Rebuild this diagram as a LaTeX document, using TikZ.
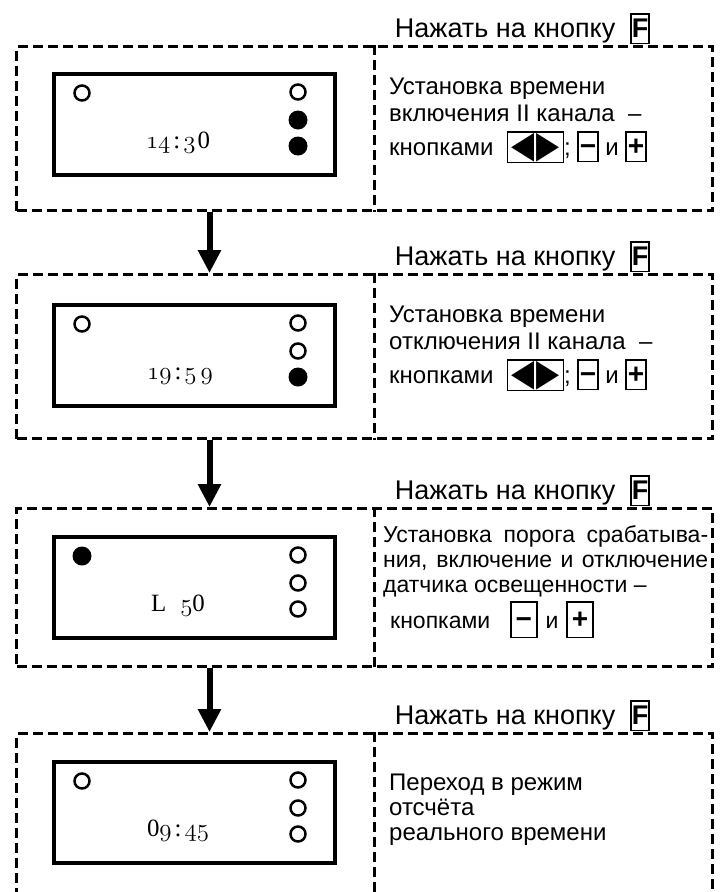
\documentclass[tikz,border=0pt]{standalone}
\usepackage{fontspec}
\setmainfont{Liberation Sans}
\newfontfamily\lcdserif{Liberation Serif}
\newfontfamily\symfont{DejaVu Sans}
\usepackage{graphicx}
\usepackage{tikz}
\usetikzlibrary{arrows.meta, positioning}

\newcommand{\knopka}[2][0pt]{{\setlength{\fboxsep}{#1}\setlength{\fboxrule}{1.5pt}\fbox{\rule[-5.5pt]{0pt}{28pt}\textbf{#2}}}}
\newcommand{\znak}[1]{{\fontsize{28}{28}\selectfont\kern1pt#1\kern1pt}}
\newcommand{\strelki}{\knopka{\kern3pt\raisebox{-2pt}{\scalebox{1}[1.25]{\symfont\fontsize{30}{30}\selectfont ◀\kern2pt▶}}\kern3pt}}
\newcommand{\osnum}[1]{{\usefont{OML}{cmm}{m}{it}#1}}

\begin{document}
\begin{tikzpicture}[
        x=1pt, y=-1pt,
        block/.style={draw, dash pattern=on 10pt off 5pt, line width=3pt, anchor=north west, minimum width=696pt, minimum height=164pt},
        divider/.style={dash pattern=on 10pt off 5pt, line width=3pt},
        lcd/.style={draw, line width=4pt, anchor=north west, minimum width=281pt, minimum height=101pt},
        ledoff/.style={circle, draw, line width=2.5pt, inner sep=0pt, minimum size=15pt},
        ledon/.style={circle, fill, inner sep=0pt, minimum size=19pt},
        lcdtext/.style={anchor=base, inner sep=0pt, font=\lcdserif\fontsize{24.88}{30}\selectfont},
        press/.style={anchor=base east, inner sep=0pt, font=\fontsize{27}{30}\selectfont},
        hint/.style={anchor=base west, align=left, inner sep=0pt, font=\fontsize{24}{27}\selectfont},
        nextarrow/.style={line width=6pt, -{Triangle[length=23pt, width=22pt]}}
      ]
      \useasboundingbox (0,0) rectangle (723,892);

      % Block 1
      \node[block] (block1) at (15,45) {};
      \node[press] (press1) at (650,37) {Нажать на кнопку \ \knopka{F}};
      \node[lcd] (lcd1) at (52,72) {};
      \node[ledoff] (led1a) at (82,93) {};
      \node[ledoff] (led1b) at (298,92) {};
      \node[ledon] (led1c) at (298,120) {};
      \node[ledon] (led1d) at (298,146) {};
      \node[lcdtext] (time1) at (178,148) {\osnum{14}\kern3pt:\kern3pt\osnum{3}\kern2pt0};
      \node[hint] (hint1) at (389,121) {Установка времени\\включения II канала \ –};
      \node[hint] (keys1) at (389,155) {кнопками \ \strelki; \knopka{\znak{−}} и \knopka{\znak{+}}};
      \draw[divider] ([xshift=9.5pt]block1.north) -- ([xshift=9.5pt]block1.south);

      % Block 2
      \node[block] (block2) at (15,273) {};
      \node[press] (press2) at (650,265) {Нажать на кнопку \ \knopka{F}};
      \node[lcd] (lcd2) at (52,303) {};
      \node[ledoff] (led2a) at (82,324) {};
      \node[ledoff] (led2b) at (298,323) {};
      \node[ledoff] (led2c) at (298,351) {};
      \node[ledon] (led2d) at (298,377) {};
      \node[lcdtext] (time2) at (180,379) {\osnum{19}\kern3pt:\kern3pt\osnum{5}\kern4pt\osnum{9}};
      \node[hint] (hint2) at (389,349) {Установка времени\\отключения II канала \ –};
      \node[hint] (keys2) at (389,383) {кнопками \ \strelki; \knopka{\znak{−}} и \knopka{\znak{+}}};
      \draw[divider] ([xshift=9.5pt]block2.north) -- ([xshift=9.5pt]block2.south);

      % Block 3
      \node[block, minimum height=158pt] (block3) at (15,507) {};
      \node[press] (press3) at (650,499) {Нажать на кнопку \ \knopka{F}};
      \node[lcd] (lcd3) at (52,535) {};
      \node[ledon] (led3a) at (82,556) {};
      \node[ledoff] (led3b) at (298,555) {};
      \node[ledoff] (led3c) at (298,583) {};
      \node[ledoff] (led3d) at (298,609) {};
      \node[lcdtext] (time3) at (178,611) {L\hspace{14pt}\osnum{5}0};
      \node[hint, align=justify, text width=325pt, font=\fontsize{23}{25}\selectfont] (hint3) at (383,542) {Установка порога срабатыва-\linebreak ния, включение и отключение\linebreak датчика освещенности –};
      \node[hint, font=\fontsize{23}{25}\selectfont] (keys3) at (390,628) {кнопками\hspace{20pt}\knopka[3pt]{\znak{−}}\hspace{8pt}и\hspace{8pt}\knopka[3pt]{\znak{+}}};
      \draw[divider] ([xshift=9.5pt]block3.north) -- ([xshift=9.5pt]block3.south);

      % Block 4
      \node[block] (block4) at (15,732) {};
      \node[press] (press4) at (650,724) {Нажать на кнопку \ \knopka{F}};
      \node[lcd] (lcd4) at (52,760) {};
      \node[ledoff] (led4a) at (82,781) {};
      \node[ledoff] (led4b) at (298,780) {};
      \node[ledoff] (led4c) at (298,808) {};
      \node[ledoff] (led4d) at (298,834) {};
      \node[lcdtext] (time4) at (178,836) {0\osnum{9}\kern3pt:\kern3pt\osnum{45}};
      \node[hint, font=\fontsize{24}{25}\selectfont] (hint4) at (389,840) {Переход в режим\\отсчёта\\реального времени};
      \draw[divider] ([xshift=9.5pt]block4.north) -- ([xshift=9.5pt]block4.south);

      % Arrows
      \draw[nextarrow] ([xshift=-155pt]block1.south) -- ([xshift=-155pt]block2.north);
      \draw[nextarrow] ([xshift=-155pt]block2.south) -- ([xshift=-155pt]block3.north);
      \draw[nextarrow] ([xshift=-155pt]block3.south) -- ([xshift=-155pt]block4.north);
\end{tikzpicture}
\end{document}
